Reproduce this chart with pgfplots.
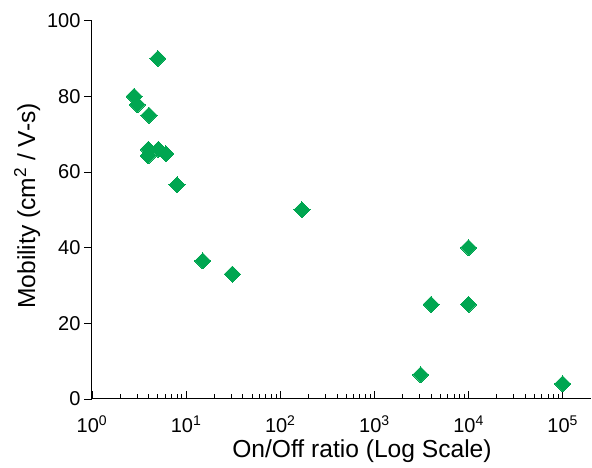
\documentclass[border=0pt]{standalone}
\usepackage{fontspec}
\setmainfont{Liberation Sans}
\usepackage{pgfplots}
\pgfplotsset{compat=1.18}
\definecolor{mk}{RGB}{0,166,81}
\begin{document}
\begin{tikzpicture}
\useasboundingbox (0,0) rectangle (592pt,468pt);
\begin{axis}[
  at={(92pt,69pt)}, anchor=south west,
  scale only axis, width=499pt, height=378.3pt,
  xmode=log, xmin=1, xmax=2e5, ymin=0, ymax=100,
  axis x line*=bottom, axis y line*=left,
  axis line style={line width=1pt, black},
  xtick={1,10,100,1000,10000,100000},
  xticklabels={10\textsuperscript{0},10\textsuperscript{1},10\textsuperscript{2},10\textsuperscript{3},10\textsuperscript{4},10\textsuperscript{5}},
  ytick={0,20,40,60,80,100},
  yticklabels={0,20,40,60,80,100},
  minor x tick num=8,
  xtick align=inside, ytick align=outside,
  major tick length=8pt, minor tick length=4.5pt,
  tick style={black, line width=0.8pt},
  every tick label/.style={font=\fontsize{20}{20}\selectfont},
  xticklabel style={yshift=-13pt},
  xlabel={On/Off ratio (Log Scale)},
  ylabel={Mobility (cm\textsuperscript{2} / V-s)},
  label style={font=\fontsize{24.6}{26}\selectfont},
  xlabel style={at={(axis description cs:0.541,-0.137)}, anchor=center},
  ylabel style={at={(axis description cs:-0.130,0.51)}, anchor=center},
  clip=false,
]
\addplot[only marks, mark=square*, mark size=5.7pt, mark options={fill=mk, draw=mk, line width=0pt, rotate=45}] coordinates {
(5,90) (2.8,80) (3.03,77.8) (4.03,75) (3.96,66) (3.96,64.3) (5.06,66) (6.1,64.8) (8,56.6)
(15,36.5) (31,33) (170,50) (3100,6.4) (4000,25) (10000,40) (10000,25) (100000,4)
};
\end{axis}
\end{tikzpicture}
\end{document}
